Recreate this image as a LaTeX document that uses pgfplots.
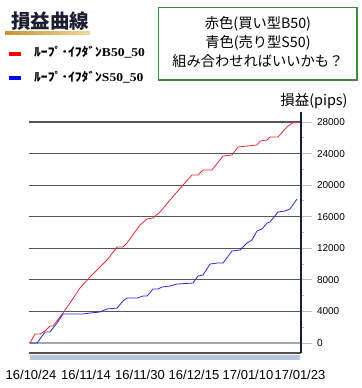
\documentclass[border=0pt]{standalone}
\usepackage{fontspec}
\usepackage{pgfplots}
\pgfplotsset{compat=1.18}
\setmainfont{Liberation Sans}
\newfontfamily\jp{Noto Sans CJK JP}
\newfontfamily\ser{Liberation Serif}
\definecolor{gridc}{RGB}{85,85,85}
\definecolor{zeroc}{RGB}{160,168,176}
\definecolor{navyc}{RGB}{25,30,60}
\definecolor{xaxc}{RGB}{80,80,80}
\definecolor{tickc}{RGB}{190,190,190}
\definecolor{floorc}{RGB}{184,200,218}
\definecolor{boxg}{RGB}{60,140,60}
\definecolor{goldc}{RGB}{200,150,40}
\definecolor{goldl}{RGB}{240,215,160}
\definecolor{titlec}{RGB}{30,30,50}
\definecolor{redc}{RGB}{240,40,50}
\definecolor{bluec}{RGB}{40,40,220}
\begin{document}
\begin{tikzpicture}[x=1bp,y=1bp]
\useasboundingbox (0,0) rectangle (362,-388);
% title
\node[anchor=base,inner sep=0,text=titlec] at (50,-28.4) {\jp\bfseries\fontsize{19.5bp}{22bp}\selectfont 損益曲線};
\shade[left color=goldc,right color=goldl] (5,-31.7) rectangle (90,-34);
% legend
\fill[red] (9,-51.5) rectangle (20.5,-56);
\fill[blue] (9,-75.5) rectangle (20.5,-80);
\node[anchor=west,inner sep=0] at (34,-52.5) {\scalebox{1.13}[1]{\jp\bfseries\fontsize{12bp}{14bp}\selectfont ﾙｰﾌﾟ･ｲﾌﾀﾞﾝ\ser\bfseries B50\_50}};
\node[anchor=west,inner sep=0] at (34,-77.5) {\scalebox{1.13}[1]{\jp\bfseries\fontsize{12bp}{14bp}\selectfont ﾙｰﾌﾟ･ｲﾌﾀﾞﾝ\ser\bfseries S50\_50}};
% note box
\draw[boxg,line width=1.5bp] (158.3,-7.3) rectangle (357,-80);
\node[anchor=base,inner sep=0] at (258,-28.5) {\jp\fontsize{14.25bp}{17bp}\selectfont 赤色(買い型B50)};
\node[anchor=base,inner sep=0] at (258,-47.5) {\jp\fontsize{14.25bp}{17bp}\selectfont 青色(売り型S50)};
\node[anchor=base,inner sep=0] at (258,-66.5) {\jp\fontsize{14.25bp}{17bp}\selectfont 組み合わせればいいかも？};
% y label
\node[anchor=base,inner sep=0] at (314,-105.2) {\jp\fontsize{14.4bp}{17bp}\selectfont 損益(pips)};
% floor
\fill[floorc] (30,-354.8) rectangle (300,-360);
\begin{axis}[
  at={(29bp,-353bp)}, anchor=south west,
  scale only axis, width=272bp, height=241bp,
  xmin=29, xmax=301, ymin=-1267, ymax=29267,
  axis x line*=bottom, axis y line*=right,
  x axis line style={draw=xaxc,line width=1.6bp,-},
  y axis line style={draw=navyc,line width=2.6bp,-},
  /pgf/number format/assume math mode=true,
  /pgf/number format/1000 sep={},
  scaled y ticks=false,
  xtick={31,86,140,194,248,300},
  xticklabels={16/10/24,16/11/14,16/11/30,16/12/15,17/01/10,17/01/23},
  x tick style={draw=none},
  xticklabel style={font=\fontsize{13bp}{15bp}\selectfont,yshift=-3bp},
  ytick={0,4000,...,28000},
  minor ytick={2000,6000,...,26000},
  ymajorgrids,
  major grid style={draw=gridc,line width=1.1bp},
  tick align=outside,
  major tick length=11bp, minor tick length=3bp,
  y tick style={draw=tickc,line width=1bp},
  minor y tick style={draw=tickc,line width=1bp},
  yticklabel style={font=\fontsize{10bp}{12bp}\selectfont,xshift=1.5bp},
  clip=false,
]
\addplot[draw=zeroc,line width=1.1bp] coordinates {(29,0) (300,0)};
\addplot[draw=redc,line width=0.8bp] coordinates {
(30,0) (35,1140) (40,1140) (45,1520) (50,2150) (53,2150) (63,3800) (70,5070) (80,6970) (90,8360) (100,9630) (107,10520) (117,12160) (123,12160) (127,12670) (140,14950) (147,15710) (153,15840) (160,16600) (170,18120) (183,20020) (192,21290) (198,21290) (203,21920) (212,21920) (223,23690) (232,23820) (238,24830) (247,24960) (257,25090) (260,25590) (267,25720) (270,26100) (278,26100) (287,27370) (292,27870) (299,27950)
};
\addplot[draw=bluec,line width=0.8bp] coordinates {
(30,0) (37,0) (45,1390) (50,1390) (57,2530) (63,3670) (83,3670) (90,3800) (100,3930) (107,4310) (117,4430) (123,5320) (127,5700) (137,5700) (143,5950) (147,5950) (153,6840) (158,6840) (162,7090) (170,7220) (177,7470) (193,7600) (198,8490) (203,8610) (210,10000) (217,10130) (223,10130) (232,11650) (240,11780) (247,12670) (252,13050) (257,14190) (262,14440) (267,15200) (270,15330) (278,16600) (285,16720) (290,16980) (297,18240)
};
\end{axis}
\end{tikzpicture}
\end{document}
